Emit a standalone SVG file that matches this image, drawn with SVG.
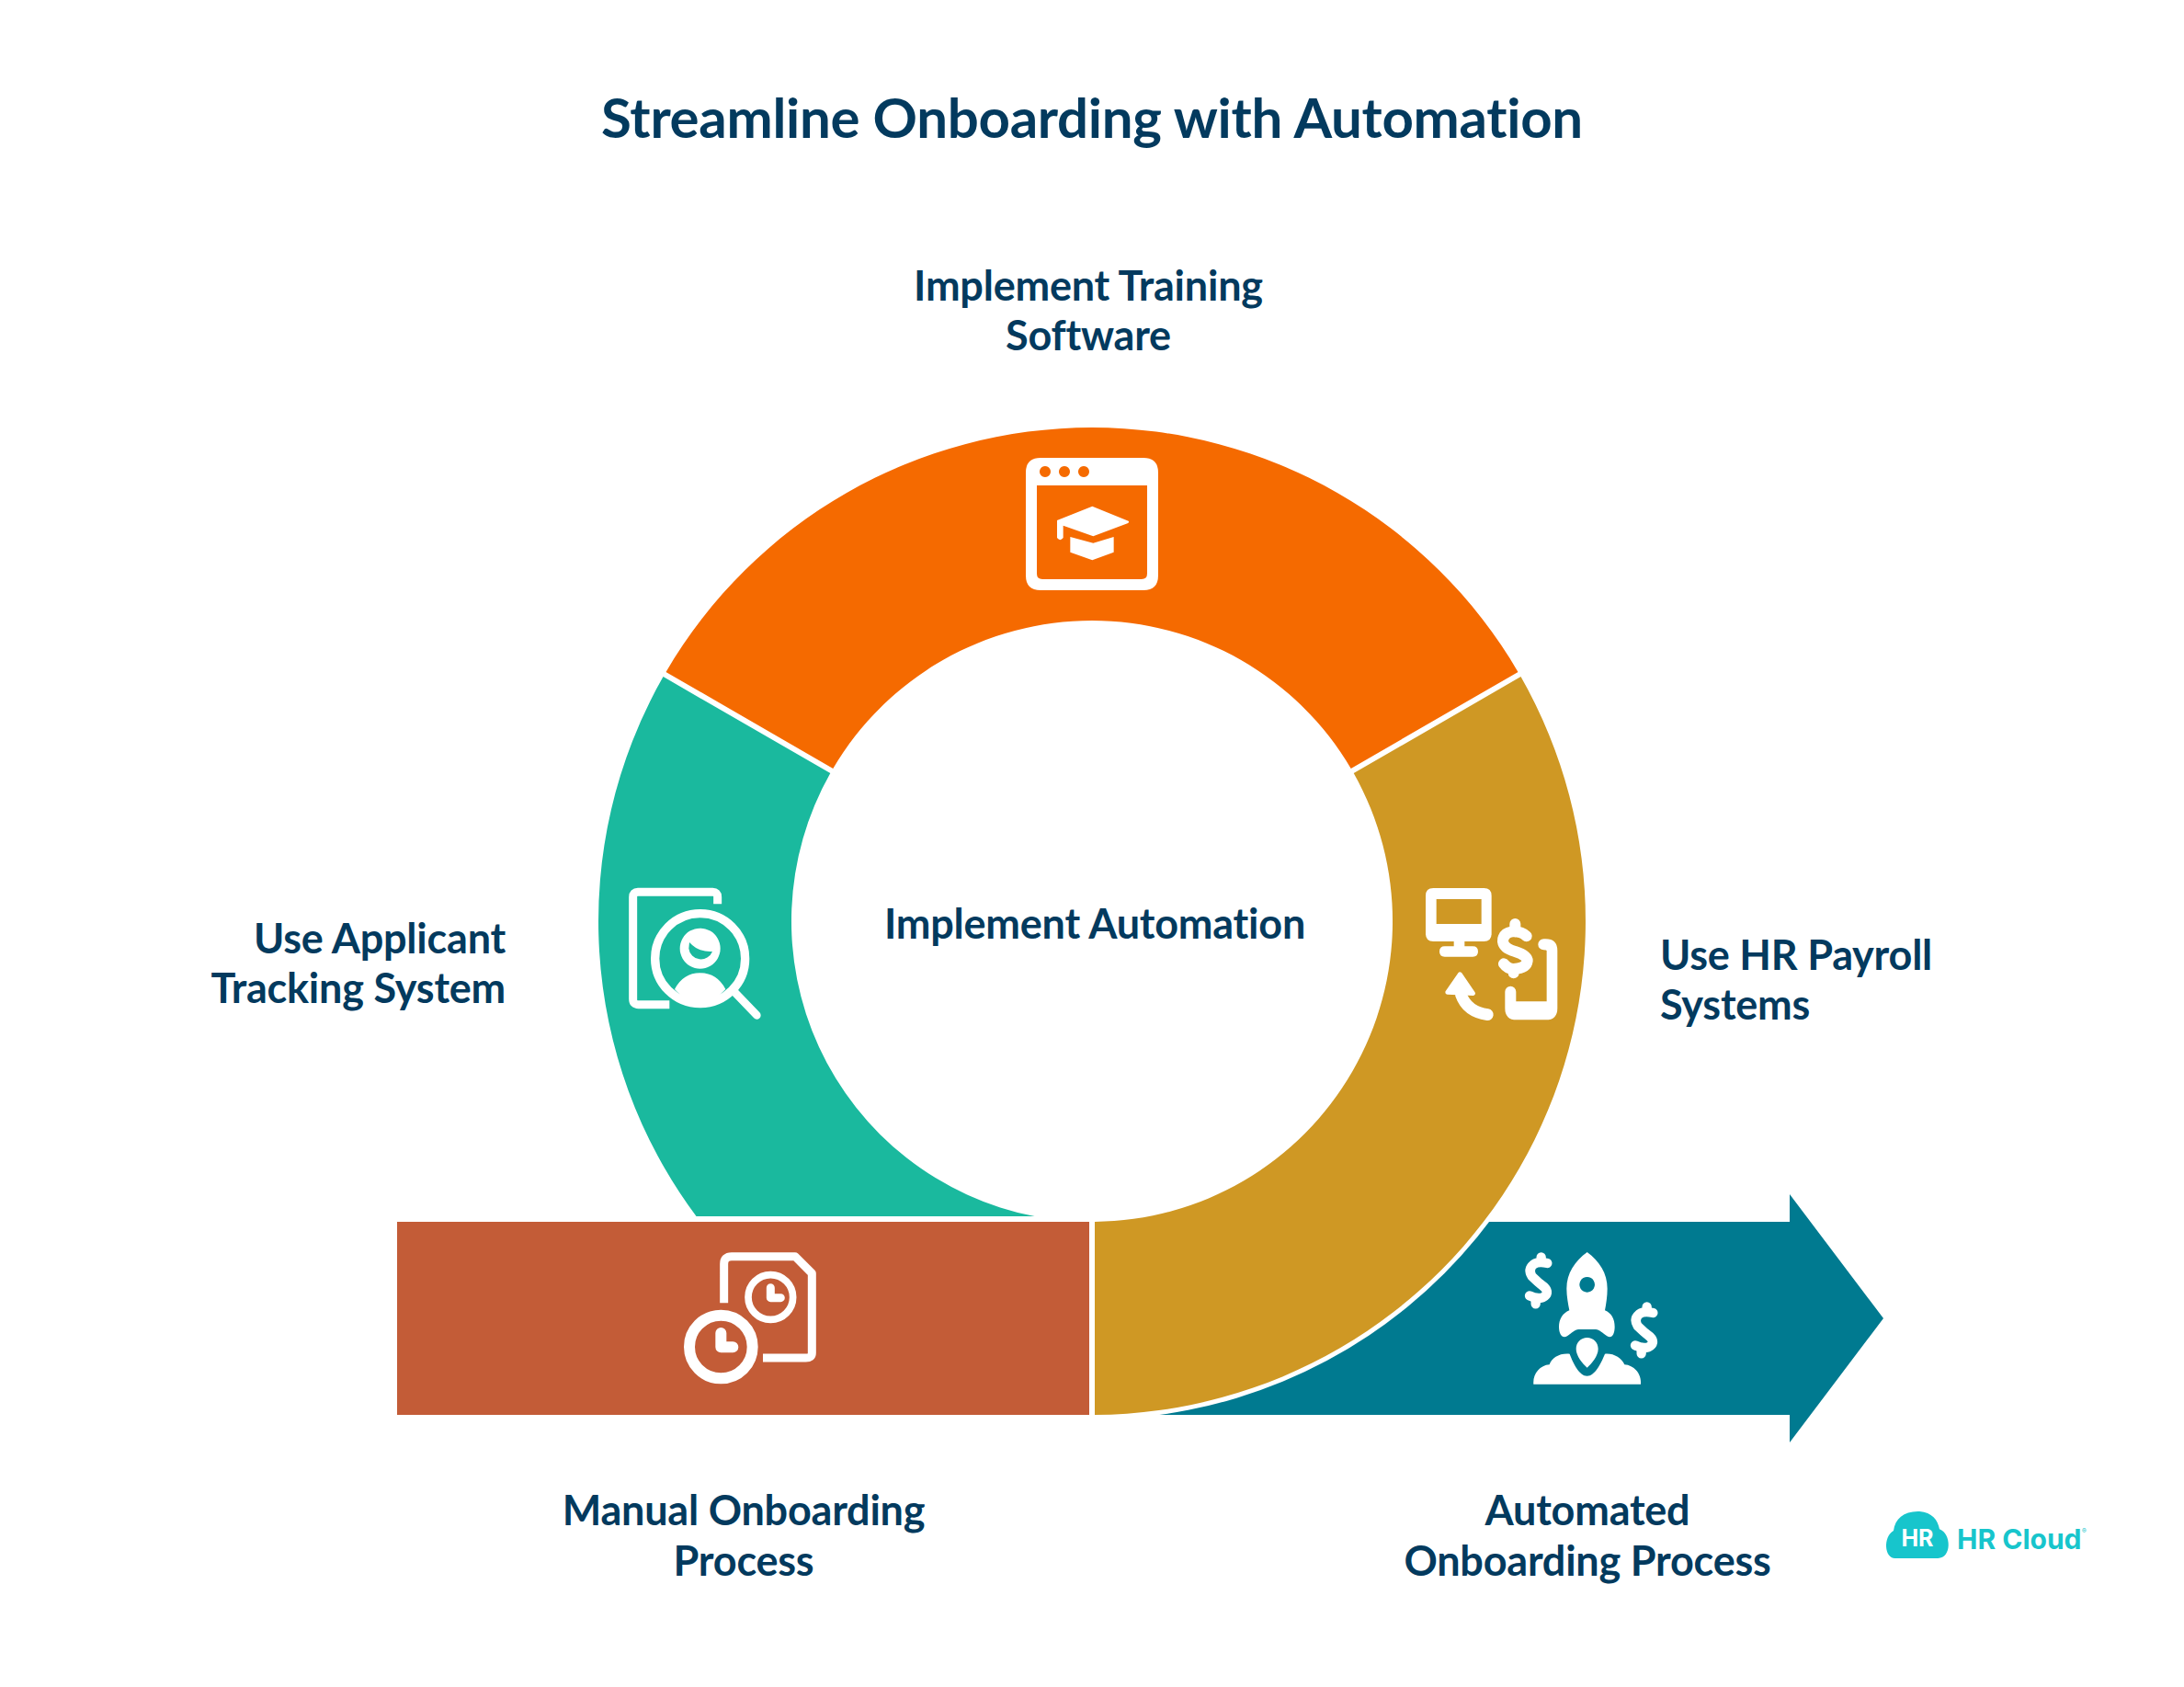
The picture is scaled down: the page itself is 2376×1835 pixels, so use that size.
<svg xmlns="http://www.w3.org/2000/svg" width="2376" height="1835" viewBox="0 0 2376 1835">
<style>
text{font-family:"Lato","Liberation Sans",sans-serif;font-weight:700;fill:#033A5E;font-variant-ligatures:none}
.l{font-size:45px;letter-spacing:-.22px}
.t{font-size:60px;letter-spacing:-.3px}
.m{text-anchor:middle}
.e{text-anchor:end}
.w{fill:#fff;fill-rule:evenodd}
.s{fill:none;stroke:#fff;stroke-linecap:round;stroke-linejoin:round}
.b{fill:none;stroke:#fff;stroke-linecap:butt;stroke-linejoin:round}
.logo{font-family:"Inter","Liberation Sans",sans-serif;font-weight:700;fill:#17C5CC}
</style>
<defs>
<g id="dollar"><path class="s" stroke-width="31" d="M130,102 Q100,95 85,106 Q66,122 80,145 Q100,165 120,180 Q140,200 115,214 Q95,220 72,208"/><path class="s" stroke-width="31" d="M110,82V98M92,235V218"/></g>
</defs>
<rect width="2376" height="1835" fill="#fff"/>
<text x="1188" y="150" class="t m">Streamline Onboarding with Automation</text>

<g id="node-automated">
<path fill="#007A90" d="M1188,1329H1947V1299L2049,1434L1947,1569V1539H1188Z"/>
<circle cx="1188" cy="1002" r="542" fill="#fff"/>
<path class="w" transform="translate(1640 1340) scale(.3333)" d="M260,66C300,95 326,135 326,185C326,210 322,235 318,256C340,265 350,285 350,310C350,335 340,350 325,340C310,330 300,318 288,318H232C220,318 210,330 195,340C180,350 168,335 168,310C168,285 180,265 202,256C198,235 193,210 193,185C193,135 220,95 260,66ZM260,147a25,25 0 1 0 .01,0ZM260,345C280,345 296,360 296,382C296,405 275,430 260,443C245,430 224,405 224,382C224,360 240,345 260,345ZM85,497C82,465 105,435 137,433C145,410 170,395 203,398C215,430 235,470 260,470C285,470 305,430 318,398C345,395 372,410 382,433C415,435 438,465 435,497Z"/>
<use href="#dollar" transform="translate(1640 1340) scale(.3333)"/>
<use href="#dollar" transform="translate(1755 1394) scale(.3333)"/>
<text x="1727" y="1659" class="l m">Automated</text>
<text x="1727" y="1714" class="l m">Onboarding Process</text>
</g>

<g id="node-training">
<path fill="#F56A00" d="M724.5,730.9A537,537 0 0 1 1651.5,730.9L1469.7,835.9A327,327 0 0 0 906.3,835.9Z"/>
<g transform="translate(1060 470) scale(.3333)">
<path class="w" d="M200,84H552Q600,84 600,132V468Q600,516 552,516H216Q168,516 168,468V132Q168,84 216,84ZM204,174V462Q204,480 222,480H546Q564,480 564,462V174ZM231,111a18,18 0 1 0 .01,0ZM294,111a18,18 0 1 0 .01,0ZM357,111a18,18 0 1 0 .01,0ZM385,242L503,290Q507,295 500,298L388,340L290,305V345Q280,358 270,345V288ZM313,342L388,362L455,342V392L385,418L313,392Z"/>
</g>
<text x="1184" y="327" class="l m">Implement Training</text>
<text x="1184" y="381" class="l m">Software</text>
</g>

<g id="node-ats">
<path fill="#1AB99E" d="M721.5,736.1A537,537 0 0 0 757.5,1323H1125.6A327,327 0 0 1 903.3,841.1Z"/>
<g transform="translate(660 940) scale(.3333)">
<path class="b" stroke-width="27" d="M362,130V107Q362,91 346,91H102Q86,91 86,107V440Q86,458 104,458H205"/>
<circle cx="305" cy="308" r="147" fill="none" stroke="#fff" stroke-width="28"/>
<path class="s" stroke-width="26" d="M420,420L490,493"/>
<path class="w" d="M305,209a66,66 0 1 0 .01,0ZM270,255Q300,288 345,285A40,40 0 0 1 268,275ZM222,408Q250,355 305,355Q360,355 388,408Q350,452 305,452Q260,452 222,408Z"/>
</g>
<text x="550" y="1037" class="l e">Use Applicant</text>
<text x="550" y="1091" class="l e">Tracking System</text>
</g>

<g id="node-payroll">
<path fill="#CF9824" d="M1654.5,736.1A537,537 0 0 1 1191,1539V1329A327,327 0 0 0 1472.7,841.1Z"/>
<g transform="translate(1530 950) scale(.3333)">
<path class="w" d="M88,48H253Q278,48 278,73V197Q278,222 253,222H190V238H217Q234,238 234,255Q234,272 217,272H125Q108,272 108,255Q108,238 125,238H155V222H88Q63,222 63,197V73Q63,48 88,48ZM98,84V165H245V84Z"/>
<path class="s" stroke-width="36" d="M392,205Q375,188 345,190Q315,195 315,222Q318,245 355,255Q395,268 395,285Q392,310 350,312Q330,312 318,295"/>
<path class="s" stroke-width="36" d="M355,165V190M350,312V325"/>
<path class="w" d="M322,386A18,18 0 0 1 358,386V418H458V252Q458,250 448,250A18,18 0 0 1 448,214H455Q493,214 493,252V440Q493,478 455,478H360Q322,478 322,440Z"/>
<path class="w" stroke="#fff" stroke-width="14" stroke-linejoin="round" d="M175,329L218,392L134,388Z"/>
<path class="s" stroke-width="38" d="M178,395Q198,452 265,461"/>
</g>
<text x="1806" y="1055" class="l">Use HR Payroll</text>
<text x="1806" y="1109" class="l">Systems</text>
</g>

<g id="node-manual">
<rect x="432" y="1329" width="753" height="210" fill="#C35C37"/>
<g transform="translate(720 1340) scale(.3333)">
<path class="b" stroke-width="27" d="M203,232V105Q203,80 228,80H435L490,135V395Q490,411 470,411H330"/>
<circle cx="355" cy="213" r="73" fill="none" stroke="#fff" stroke-width="23"/>
<path class="s" stroke-width="27" d="M355,182V215H388"/>
<circle cx="193" cy="375" r="103" fill="none" stroke="#fff" stroke-width="36"/>
<path class="s" stroke-width="36" d="M193,330V376H232"/>
</g>
<text x="809" y="1659" class="l m">Manual Onboarding</text>
<text x="809" y="1714" class="l m">Process</text>
</g>

<g id="node-center">
<text x="1191" y="1021" class="l m">Implement Automation</text>
</g>

<g id="logo">
<path fill="#17C5CC" transform="translate(2030 1620) scale(.3333)" d="M95,225C60,225 55,155 90,135C95,95 125,70 175,72C215,75 235,100 240,130C280,145 280,225 235,225Z"/>
<text x="2086" y="1682" class="logo m" style="fill:#fff;font-size:25px">HR</text>
<text x="2129" y="1685" class="logo" style="font-size:30px">HR Cloud</text>
<text x="2265" y="1668" class="logo" style="font-size:7px">®</text>
</g>
</svg>
